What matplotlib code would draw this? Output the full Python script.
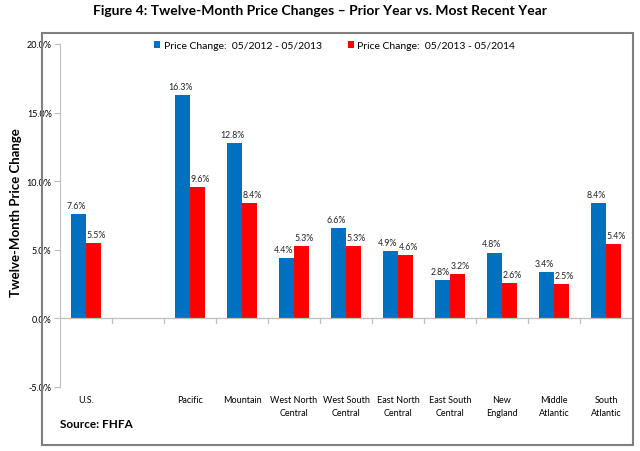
import matplotlib.pyplot as plt
import numpy as np
from matplotlib.patches import Rectangle

regions = ["U.S.", "", "Pacific", "Mountain", "West North\nCentral",
           "West South\nCentral", "East North\nCentral", "East South\nCentral",
           "New\nEngland", "Middle\nAtlantic", "South\nAtlantic"]
change_2013 = [7.6, None, 16.3, 12.8, 4.4, 6.6, 4.9, 2.8, 4.8, 3.4, 8.4]
change_2014 = [5.5, None, 9.6, 8.4, 5.3, 5.3, 4.6, 3.2, 2.6, 2.5, 5.4]
series_names = ["Price Change:  05/2012 - 05/2013", "Price Change:  05/2013 - 05/2014"]
yticks = [-5, 0, 5, 10, 15, 20]

plt.rcParams["font.family"] = ["Lato", "DejaVu Sans"]

fig = plt.figure(figsize=(6.4, 4.52), dpi=100)
ax = fig.add_axes([60 / 640, 1 - 388 / 452, 572 / 640, (388 - 45) / 452])

# outer chart frame
fig.patches.append(Rectangle((42 / 640, 1 - 446 / 452), 591 / 640, 412 / 452,
                             transform=fig.transFigure, fill=False,
                             edgecolor="#7f7f7f", linewidth=1.5))

x = np.arange(len(regions))
w = 0.28
colors = ["#0070C0", "#FF0000"]
for k, (vals, col, name) in enumerate(zip([change_2013, change_2014], colors, series_names)):
    xs = [xi for xi, v in zip(x, vals) if v is not None]
    vs = [v for v in vals if v is not None]
    bars = ax.bar(np.array(xs) + (k - 0.5) * w, vs, w, color=col, label=name)
    dx = -2 if k == 0 else 2
    for b, v in zip(bars, vs):
        ax.annotate(f"{v:.1f}%", (b.get_x() + b.get_width() / 2, v),
                    xytext=(dx, 3), textcoords="offset points",
                    ha="center", va="bottom", fontsize=6.3, color="#222222")

ax.set_xlim(-0.5, len(regions) - 0.5)
ax.set_ylim(-5, 20)
ax.set_yticks(yticks)
ax.set_yticklabels([f"{t:.1f}%" for t in yticks], fontsize=6.5)
ax.tick_params(axis="y", length=4, color="#bfbfbf", pad=2)

ax.set_xticks(x)
ax.set_xticklabels(regions, fontsize=6.5, linespacing=1.5)
ax.tick_params(axis="x", length=0, pad=6)

for s in ["top", "right", "bottom"]:
    ax.spines[s].set_visible(False)
ax.spines["left"].set_color("#bfbfbf")
ax.axhline(0, color="#bfbfbf", linewidth=0.9)
for b in np.arange(0.5, len(regions) - 0.5):
    ax.plot([b, b], [0, -0.35], color="#bfbfbf", linewidth=0.9)

ax.set_ylabel("Twelve-Month Price Change", fontsize=9.5, fontweight="bold")
ax.yaxis.set_label_coords(-0.066, 0.51)

fig.suptitle("Figure 4: Twelve-Month Price Changes \u2013 Prior Year vs. Most Recent Year",
             y=0.988, fontsize=10, fontweight="bold")
ax.legend(loc="upper center", bbox_to_anchor=(0.48, 1.035), ncol=2, frameon=False,
          fontsize=7.5, handlelength=0.6, handleheight=0.6, handletextpad=0.3,
          columnspacing=2.5)

fig.text(60 / 640, 1 - 425 / 452, "Source: FHFA", fontsize=8.5, fontweight="bold",
         va="center", ha="left")

fig.savefig("out.png", dpi=100)
